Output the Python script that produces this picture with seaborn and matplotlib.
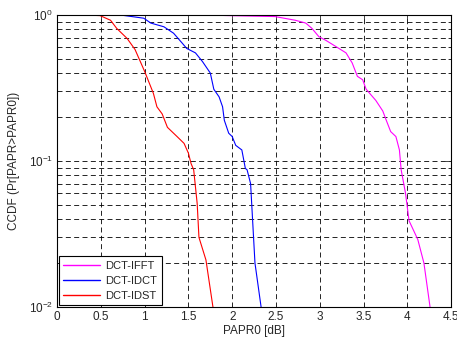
import matplotlib
matplotlib.use("Agg")
import matplotlib.pyplot as plt
import seaborn as sns
import pandas as pd
from matplotlib.ticker import LogLocator, FixedLocator

sns.set_style("white")
plt.rcParams['font.family'] = ['Liberation Sans', 'DejaVu Sans']

# DCT-IFFT (magenta)
ifft_x = [1.68, 1.96, 2.49, 2.72, 2.84, 2.91, 2.99, 3.07, 3.18, 3.30, 3.37, 3.43, 3.49, 3.53,
          3.64, 3.72, 3.76, 3.81, 3.87, 3.91, 3.93, 3.98, 4.02, 4.12, 4.19, 4.26]
ifft_y = [1.0, 0.99, 0.975, 0.92, 0.88, 0.81, 0.71, 0.67, 0.61, 0.55, 0.47, 0.38, 0.36, 0.31,
          0.26, 0.22, 0.19, 0.159, 0.147, 0.119, 0.087, 0.060, 0.039, 0.029, 0.020, 0.01]
# DCT-IDCT (blue)
idct_x = [0.72, 0.99, 1.07, 1.22, 1.33, 1.43, 1.48, 1.58, 1.66, 1.75, 1.79, 1.85, 1.89, 1.91,
          1.96, 2.00, 2.04, 2.11, 2.15, 2.17, 2.21, 2.26, 2.33]
idct_y = [1.0, 0.95, 0.88, 0.83, 0.75, 0.64, 0.59, 0.55, 0.48, 0.40, 0.31, 0.275, 0.235, 0.19,
          0.155, 0.147, 0.128, 0.119, 0.089, 0.087, 0.070, 0.020, 0.01]
# DCT-IDST (red)
idst_x = [0.30, 0.49, 0.61, 0.68, 0.80, 0.89, 0.95, 1.00, 1.10, 1.14, 1.20, 1.26, 1.37, 1.45,
          1.50, 1.53, 1.56, 1.60, 1.62, 1.70, 1.78]
idst_y = [1.0, 0.99, 0.92, 0.81, 0.69, 0.58, 0.48, 0.41, 0.29, 0.235, 0.21, 0.17, 0.147, 0.132,
          0.113, 0.096, 0.087, 0.051, 0.030, 0.021, 0.01]

series = ["DCT-IFFT", "DCT-IDCT", "DCT-IDST"]
colors = ["#ff00ff", "#0000ff", "#ff0000"]

df = pd.concat([
    pd.DataFrame({"x": ifft_x, "y": ifft_y, "s": series[0]}),
    pd.DataFrame({"x": idct_x, "y": idct_y, "s": series[1]}),
    pd.DataFrame({"x": idst_x, "y": idst_y, "s": series[2]}),
], ignore_index=True)

fig = plt.figure(figsize=(4.57, 3.40), dpi=100)
ax = fig.add_axes([0.125, 0.097, 0.862, 0.859])

sns.lineplot(data=df, x="x", y="y", hue="s", palette=dict(zip(series, colors)),
             sort=False, estimator=None, lw=0.8, ax=ax)

ax.set_yscale("log")
ax.set_xlim(0, 4.5)
ax.set_ylim(0.01, 1)
ax.xaxis.set_major_locator(FixedLocator([0, 0.5, 1, 1.5, 2, 2.5, 3, 3.5, 4, 4.5]))
ax.set_xticklabels(["0", "0.5", "1", "1.5", "2", "2.5", "3", "3.5", "4", "4.5"])
ax.yaxis.set_major_locator(LogLocator(base=10))
ax.yaxis.set_minor_locator(LogLocator(base=10, subs=range(2, 10)))

ax.grid(True, which="major", axis="both", color="black", lw=0.6, ls=(0, (6, 4)))
ax.grid(True, which="minor", axis="y", color="black", lw=0.6, ls=(0, (6, 4)))

ax.tick_params(which="both", direction="in", top=True, right=True, labelsize=8.5, pad=3)
ax.tick_params(which="major", length=4, width=0.6)
ax.tick_params(which="minor", length=2, width=0.6)
for sp in ax.spines.values():
    sp.set_color("black")
    sp.set_linewidth(0.8)

ax.set_xlabel("PAPR0 [dB]", fontsize=8.5, labelpad=1)
ax.set_ylabel("CCDF (Pr[PAPR>PAPR0])", fontsize=8.5, labelpad=6)

leg = ax.legend(loc="lower left", fontsize=8, frameon=True, fancybox=False,
                edgecolor="black", framealpha=1, borderaxespad=0.15, handlelength=3.3,
                labelspacing=0.45, borderpad=0.4, handletextpad=0.5)
leg.get_frame().set_linewidth(0.8)
for line in leg.get_lines():
    line.set_linewidth(1.0)

fig.savefig("out.png", dpi=100)
